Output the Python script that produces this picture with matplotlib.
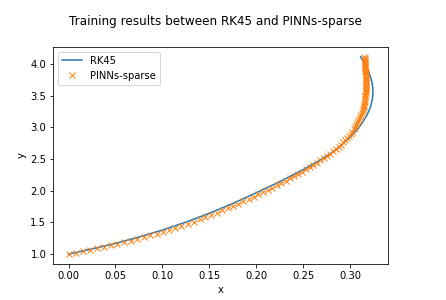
import matplotlib
matplotlib.use('Agg')
import matplotlib.pyplot as plt

# RK45 solution
rk45_x = [0.0, 0.025, 0.05, 0.075, 0.1, 0.125, 0.15, 0.175, 0.2, 0.225, 0.25,
          0.265, 0.28, 0.29, 0.3, 0.307, 0.313, 0.318, 0.3215, 0.3235, 0.3243,
          0.3238, 0.3222, 0.3197, 0.3165, 0.313, 0.311]
rk45_y = [1.0, 1.082, 1.17, 1.27, 1.38, 1.505, 1.645, 1.80, 1.97, 2.145, 2.335,
          2.46, 2.60, 2.715, 2.85, 2.96, 3.08, 3.20, 3.32, 3.44, 3.55,
          3.66, 3.77, 3.88, 3.98, 4.07, 4.12]

# PINNs-sparse predictions
pinn_x = [0.0, 0.0077, 0.0153, 0.0228, 0.0302, 0.0375, 0.0448, 0.0520, 0.0591, 0.0662,
          0.0732, 0.0801, 0.0870, 0.0938, 0.1005, 0.1072, 0.1138, 0.1203, 0.1268, 0.1332,
          0.1395, 0.1457, 0.1518, 0.1578, 0.1637, 0.1695, 0.1752, 0.1808, 0.1863, 0.1917,
          0.1970, 0.2022, 0.2073, 0.2123, 0.2172, 0.2220, 0.2267, 0.2313, 0.2358, 0.2402,
          0.2445, 0.2487, 0.2528, 0.2568, 0.2607, 0.2645, 0.2682, 0.2718, 0.2753, 0.2787,
          0.2820, 0.2848, 0.2876, 0.2902, 0.2925, 0.2947, 0.2970, 0.2989, 0.3006, 0.3023,
          0.3039, 0.3051, 0.3063, 0.3075, 0.3087, 0.3097, 0.3108, 0.3118, 0.3125, 0.3131,
          0.3137, 0.3142, 0.3146, 0.3149, 0.3153, 0.3156, 0.3158, 0.3160, 0.3162, 0.3164,
          0.3165, 0.3166, 0.3167, 0.3168, 0.3168, 0.3168, 0.3168, 0.3168, 0.3167, 0.3166,
          0.3165, 0.3164, 0.3163, 0.3162, 0.3161, 0.3160, 0.3159, 0.3157, 0.3156, 0.3155,
          0.3154, 0.3153, 0.3152, 0.3150]
pinn_y = [1.000, 1.023, 1.0456, 1.068, 1.0912, 1.1147, 1.1383, 1.1624, 1.1887, 1.2149,
          1.2408, 1.2684, 1.2967, 1.3246, 1.3524, 1.3846, 1.4162, 1.4474, 1.4797, 1.5143,
          1.5483, 1.5818, 1.6162, 1.6534, 1.6899, 1.7259, 1.7614, 1.7994, 1.8368, 1.8736,
          1.9096, 1.9454, 1.9811, 2.0161, 2.0504, 2.084, 2.1224, 2.1591, 2.1963, 2.2326,
          2.2682, 2.3029, 2.3387, 2.3746, 2.4096, 2.4437, 2.4806, 2.5164, 2.5513, 2.5852,
          2.623, 2.659, 2.6947, 2.7301, 2.7652, 2.8000, 2.8345, 2.8687, 2.9026, 2.9362,
          2.9695, 3.0025, 3.0352, 3.0676, 3.0997, 3.1315, 3.1630, 3.1942, 3.2251, 3.2557,
          3.2860, 3.3160, 3.3457, 3.3751, 3.4042, 3.4330, 3.4615, 3.4897, 3.5176, 3.5452,
          3.5725, 3.5995, 3.6262, 3.6526, 3.6787, 3.7045, 3.7300, 3.7552, 3.7801, 3.8047,
          3.8290, 3.8530, 3.8767, 3.9001, 3.9232, 3.9460, 3.9685, 3.9907, 4.0126, 4.0342,
          4.0555, 4.0765, 4.0972, 4.1176]

fig = plt.figure(figsize=(446 / 72, 300 / 72), dpi=72)
ax = fig.add_subplot(111)
fig.subplots_adjust(left=0.1195, right=0.8706, top=0.8443, bottom=0.12)

ax.plot(rk45_x, rk45_y, label='RK45')
ax.plot(pinn_x, pinn_y, 'x', label='PINNs-sparse')
ax.set_xlabel('x')
ax.set_ylabel('y')
ax.legend(loc='upper left')
fig.suptitle('Training results between RK45 and PINNs-sparse', x=0.482, y=0.95)

fig.savefig('out.png', dpi=72)
